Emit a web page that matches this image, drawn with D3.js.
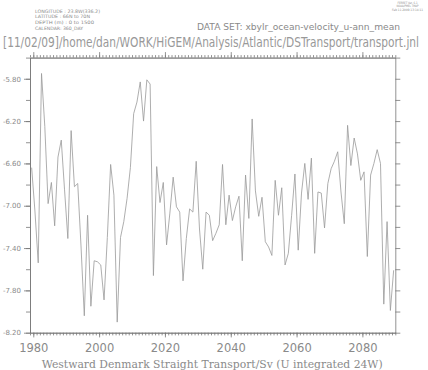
<!DOCTYPE html>
<html>
<head>
<meta charset="utf-8">
<script src="https://cdn.jsdelivr.net/npm/d3@7"></script>
<style>
  html, body { margin: 0; padding: 0; background: #fff; }
  svg { display: block; }
</style>
</head>
<body>
<script>
// Westward Denmark Strait transport (Sv), annual means 1979-2089
const transport = [
  -6.64, -7.05, -7.54, -5.75, -6.25, -6.98, -6.78, -7.19, -6.54, -6.38,
  -6.85, -7.31, -6.29, -6.82, -6.79, -7.38, -8.04, -7.09, -7.95, -7.52,
  -7.53, -7.56, -7.89, -7.30, -6.61, -6.90, -8.10, -7.30, -7.15, -6.93,
  -6.64, -6.13, -6.02, -5.83, -6.20, -5.81, -5.85, -7.66, -6.63, -6.97,
  -6.78, -7.37, -7.07, -6.73, -7.01, -7.06, -7.71, -7.31, -7.03, -7.06,
  -6.58, -7.22, -7.60, -7.06, -7.09, -7.33, -7.26, -7.18, -6.61, -7.18,
  -6.90, -7.14, -7.01, -6.91, -7.52, -6.71, -7.12, -6.18, -6.86, -7.10,
  -6.92, -7.34, -7.39, -7.47, -6.76, -7.09, -6.83, -7.56, -7.45, -7.09,
  -6.70, -7.42, -6.88, -6.60, -6.94, -6.55, -7.45, -6.87, -6.88, -7.21,
  -6.79, -6.65, -6.58, -6.49, -6.87, -7.17, -6.24, -6.62, -6.36, -6.51,
  -6.76, -6.68, -7.48, -6.71, -6.60, -6.47, -6.60, -7.93, -7.15, -7.99,
  -7.61
]
const years = transport.map((_, i) => 1979.5 + i)

const xMajorTicks = [1980, 2000, 2020, 2040, 2060, 2080]
const xMinorTicks = d3.range(1979, 2091)
const yMajorTicks = [-5.8, -6.2, -6.6, -7.0, -7.4, -7.8, -8.2]
const yAllTicks = [-5.6, -5.8, -6.0, -6.2, -6.4, -6.6, -6.8, -7.0, -7.2, -7.4, -7.6, -7.8, -8.0, -8.2]

const headerLeft = [
  'LONGITUDE : 23.8W(336.2)',
  'LATITUDE : 66N to 70N',
  'DEPTH (m) : 0 to 1500',
  'CALENDAR: 360_DAY'
]
const headerRight = ['FERRET Ver. 6.1', 'NOAA/PMEL TMAP', 'Feb 11 2009 13:14:11']
const title = '[11/02/09]/home/dan/WORK/HiGEM/Analysis/Atlantic/DSTransport/transport.jnl'
const dataSet = 'DATA SET: xbylr_ocean-velocity_u-ann_mean'
const xLabel = 'Westward Denmark Straight Transport/Sv (U integrated 24W)'

const w = 428
const h = 370
const plotLeft = 30
const plotRight = 395.3
const plotTop = 57.6
const plotBottom = 332.7
const axisColor = '#777'
const textColor = '#8a8a8a'
const sansFont = '"DejaVu Sans", sans-serif'
const narrowFont = '"Liberation Sans Narrow", "DejaVu Sans Condensed", "DejaVu Sans", sans-serif'

const svg = d3.select('body').append('svg').attr('width', w).attr('height', h)

const x = d3.scaleLinear().domain([1979, 2090]).range([plotLeft, plotRight])
const y = d3.scaleLinear().domain([-8.2, -5.6]).range([plotBottom, plotTop])

function styleAxis(g) {
  g.selectAll('path, line').attr('stroke', axisColor).attr('stroke-width', 0.8)
  g.selectAll('text').attr('fill', textColor).attr('font-family', sansFont)
}

// left axis: ticks every 0.2, labels every 0.4
svg.append('g')
  .attr('transform', `translate(${plotLeft},0)`)
  .call(d3.axisLeft(y).tickValues(yAllTicks).tickSize(4).tickSizeOuter(0).tickFormat(''))
  .call(styleAxis)
svg.append('g')
  .attr('transform', `translate(${plotLeft},0)`)
  .call(d3.axisLeft(y).tickValues(yMajorTicks).tickSize(6).tickSizeOuter(0).tickPadding(3)
    .tickFormat(d => d.toFixed(2)))
  .call(styleAxis)
  .call(g => g.selectAll('text').attr('font-size', 7))

// right axis
svg.append('g')
  .attr('transform', `translate(${plotRight},0)`)
  .call(d3.axisRight(y).tickValues(yAllTicks).tickSize(5).tickSizeOuter(0).tickFormat(''))
  .call(styleAxis)

// top axis
svg.append('g')
  .attr('transform', `translate(0,${plotTop})`)
  .call(d3.axisTop(x).tickValues(xMinorTicks).tickSize(2.5).tickSizeOuter(0).tickFormat(''))
  .call(styleAxis)
svg.append('g')
  .attr('transform', `translate(0,${plotTop})`)
  .call(d3.axisTop(x).tickValues(xMajorTicks).tickSize(5.5).tickSizeOuter(0).tickFormat(''))
  .call(styleAxis)

// bottom axis
svg.append('g')
  .attr('transform', `translate(0,${plotBottom})`)
  .call(d3.axisBottom(x).tickValues(xMinorTicks).tickSize(2.7).tickSizeOuter(0).tickFormat(''))
  .call(styleAxis)
svg.append('g')
  .attr('transform', `translate(0,${plotBottom})`)
  .call(d3.axisBottom(x).tickValues(xMajorTicks).tickSize(4.7).tickSizeOuter(0).tickPadding(6)
    .tickFormat(d3.format('d')))
  .call(styleAxis)
  .call(g => g.selectAll('text').attr('font-size', 11.5))

// data line
const line = d3.line()
  .x((d, i) => x(years[i]))
  .y(d => y(d))

svg.append('path')
  .datum(transport)
  .attr('d', line)
  .attr('fill', 'none')
  .attr('stroke', '#999')
  .attr('stroke-width', 0.8)

// header texts
const leftWidths = [65, 55, 59, 48]
const leftBase = [12.6, 17.5, 24, 30]
svg.selectAll('.hl')
  .data(headerLeft)
  .enter()
  .append('text')
  .attr('class', 'hl')
  .attr('x', 35)
  .attr('y', (_, i) => leftBase[i])
  .attr('font-family', narrowFont)
  .attr('font-size', 4.6)
  .attr('fill', textColor)
  .attr('textLength', (_, i) => leftWidths[i])
  .attr('lengthAdjust', 'spacingAndGlyphs')
  .text(d => d)

const rightWidths = [20, 22, 31]
const rightBase = [4, 7.4, 11]
svg.selectAll('.hr')
  .data(headerRight)
  .enter()
  .append('text')
  .attr('class', 'hr')
  .attr('x', 407.5)
  .attr('y', (_, i) => rightBase[i])
  .attr('text-anchor', 'middle')
  .attr('font-family', narrowFont)
  .attr('font-size', 3.2)
  .attr('fill', textColor)
  .attr('textLength', (_, i) => rightWidths[i])
  .attr('lengthAdjust', 'spacingAndGlyphs')
  .text(d => d)

svg.append('text')
  .attr('x', 197)
  .attr('y', 30)
  .attr('font-family', sansFont)
  .attr('font-size', 8.5)
  .attr('fill', textColor)
  .attr('textLength', 203)
  .attr('lengthAdjust', 'spacingAndGlyphs')
  .text(dataSet)

svg.append('text')
  .attr('transform', 'translate(3,46.5) scale(1,1.18)')
  .attr('font-family', narrowFont)
  .attr('font-size', 11.6)
  .attr('fill', '#999')
  .attr('textLength', 416)
  .attr('lengthAdjust', 'spacingAndGlyphs')
  .text(title)

svg.append('text')
  .attr('x', 41.7)
  .attr('y', 367.5)
  .attr('font-family', 'DejaVu Serif, serif')
  .attr('font-size', 10.5)
  .attr('fill', textColor)
  .attr('textLength', 341)
  .attr('lengthAdjust', 'spacingAndGlyphs')
  .text(xLabel)
</script>
</body>
</html>
